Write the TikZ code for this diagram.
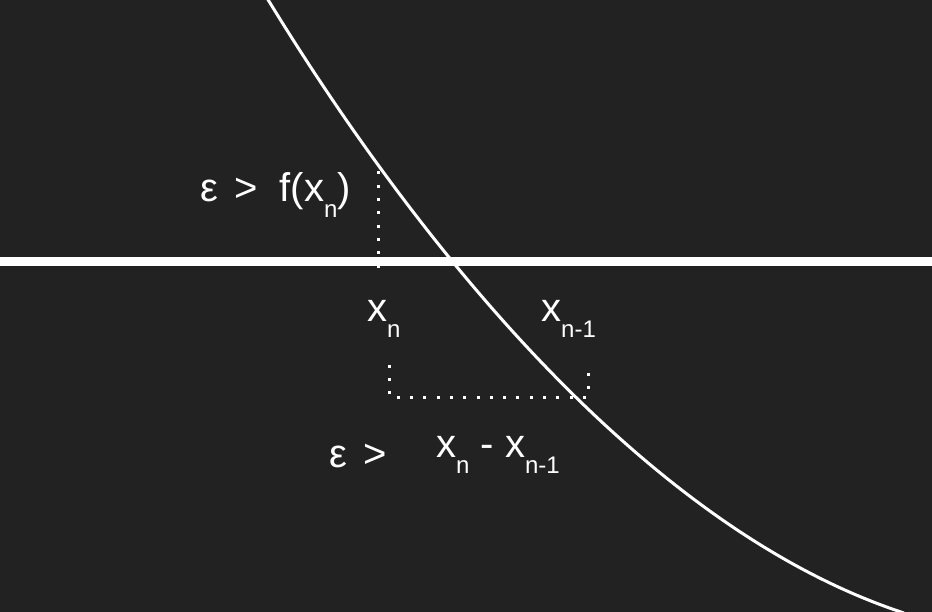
\documentclass[tikz,border=0pt]{standalone}
\usepackage{fontspec}
\setmainfont{Liberation Sans}
\usepackage{tikz}
\usetikzlibrary{positioning}
\definecolor{boardbg}{RGB}{34,34,34}
\tikzset{
  labeltext/.style={
    text=white,
    font=\fontsize{40}{40}\selectfont,
    inner sep=0pt,
    anchor=base west
  },
  axisline/.style={draw=white,line width=9pt},
  curveline/.style={draw=white,line width=3pt},
  dotline/.style={draw=white,line width=3pt,dash pattern=on 3pt off 10.3pt},
}
\newcommand{\lowsub}[1]{\raisebox{-16pt}{\fontsize{24}{24}\selectfont #1}}

\begin{document}
\begin{tikzpicture}[x=1pt,y=-1pt]
  % Background
  \fill[boardbg] (0,0) rectangle (932,612);
  \useasboundingbox (0,0) rectangle (932,612);

  % Axis and function
  \coordinate (axisL) at (0,261.5);
  \coordinate (axisR) at (932,261.5);
  \draw[axisline] (axisL) -- (axisR);
  \coordinate (curveTop) at (267,-2);
  \coordinate (curveEnd) at (904,613);
  \draw[curveline] (curveTop) .. controls (384,190) and (620,520) .. (curveEnd);

  % Residual at x_n
  \coordinate (resTop) at (378.5,171.5);
  \coordinate (resFoot) at (378.5,269);
  \draw[dotline] (resTop) -- (resFoot);

  % Step between iterates
  \coordinate (stepR) at (588,372.5);
  \coordinate (stepRB) at (588,397);
  \coordinate (stepLB) at (389,397);
  \coordinate (stepL) at (389,364);
  \draw[dotline] (stepR) -- (stepRB) -- (stepLB) -- (stepL);

  % Labels
  \node[labeltext] (resLabel) at (200,202) {ε\hspace{5pt} >\ \ f(x\lowsub{n})};
  \node[labeltext] (xnLabel) at (367,322) {x\lowsub{n}};
  \node[labeltext] (xprevLabel) at (541,322) {x\lowsub{n-1}};
  \node[labeltext] (stepEps) at (329,467) {ε\hspace{5pt} >};
  \node[labeltext] (stepDiff) at (436,457) {x\lowsub{n} - x\lowsub{n-1}};
\end{tikzpicture}
\end{document}
